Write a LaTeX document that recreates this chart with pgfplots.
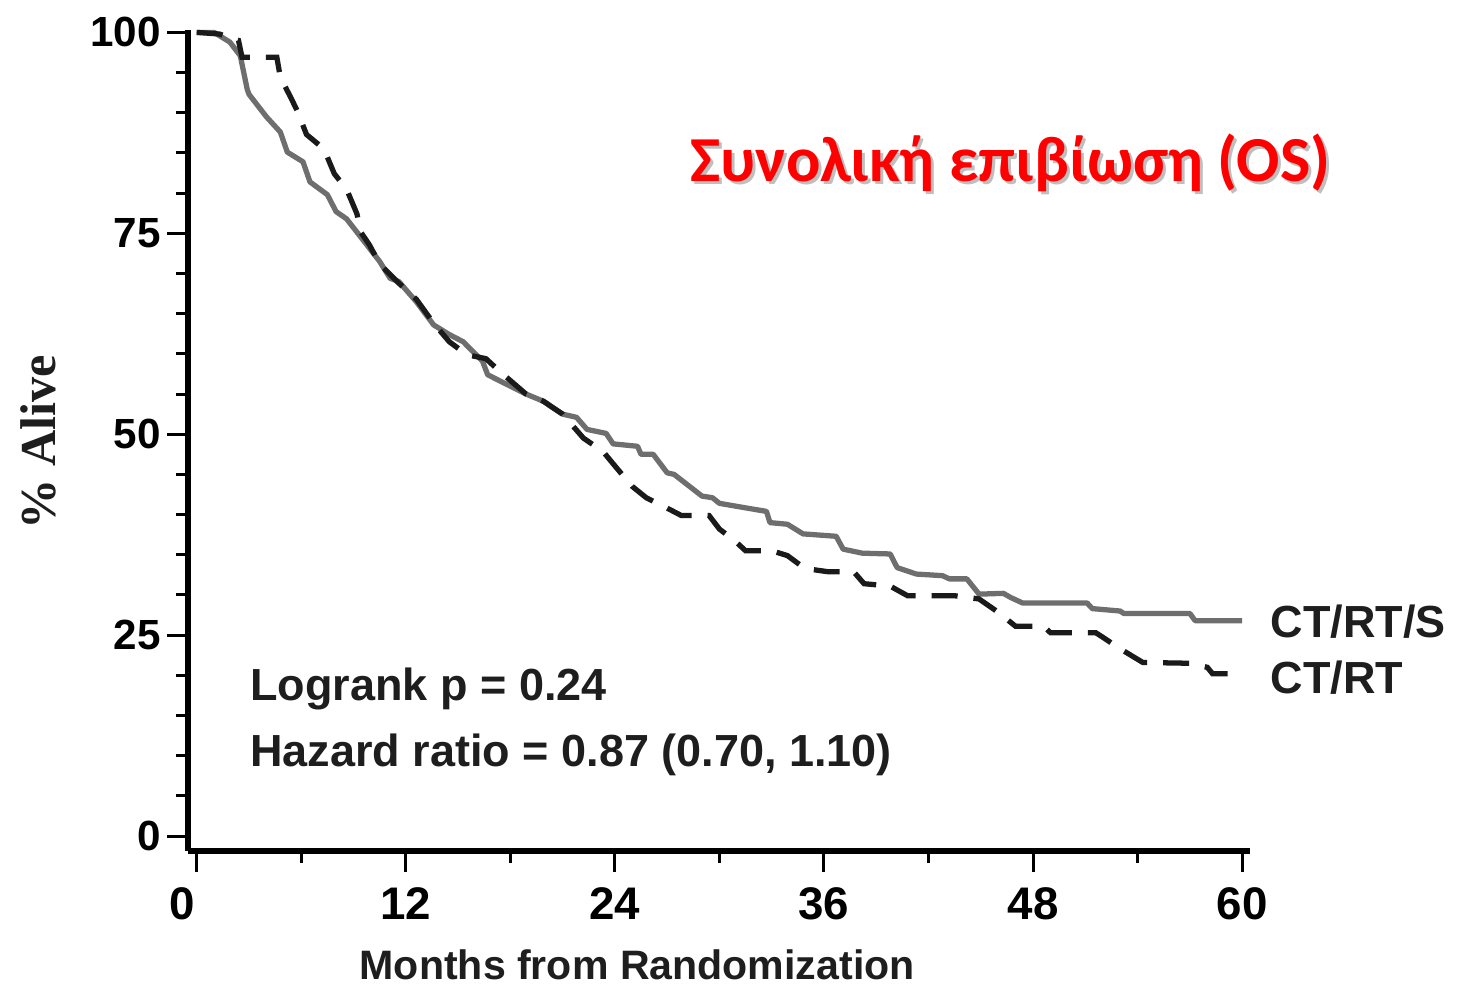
\documentclass[border=0pt]{standalone}
\usepackage{fontspec}
\usepackage{pgfplots}
\pgfplotsset{compat=1.18}
\setmainfont{Liberation Sans}
\newfontfamily\serifbf{Liberation Serif}
\newfontfamily\carlito{Carlito}

\definecolor{kmgray}{HTML}{6E6E6E}
\definecolor{kmblack}{HTML}{1A1A1A}
\definecolor{txt}{HTML}{1E1E1E}
\definecolor{osred}{HTML}{FF0000}

\begin{document}
\begin{tikzpicture}
\begin{axis}[
  scale only axis,
  width=106.2mm, height=82.1mm,
  xmin=-0.5, xmax=60.45,
  ymin=-1.86, ymax=100.3,
  axis x line*=bottom, axis y line*=left,
  axis line style={line width=1.6pt, black},
  xtick={0,12,...,60},
  xticklabels={\makebox[0pt][r]{0\hspace{0.2mm}},12,24,36,48,60},
  minor xtick={6,18,...,54},
  ytick={0,25,...,100},
  yticklabels={0\hspace{-1.9mm},25,50,75,100},
  minor y tick num=4,
  tick align=outside,
  major tick length=2.1mm, minor tick length=1.2mm,
  every tick/.style={black, line width=0.85pt},
  yticklabel style={font=\fontsize{12}{14}\selectfont\bfseries, xshift=0.6mm},
  xticklabel style={font=\fontsize{13}{15}\selectfont\bfseries, yshift=-0.3mm},
  xlabel={Months from Randomization},
  xlabel style={at={(axis description cs:0.423,-0.157)}, anchor=base,
    font=\fontsize{11.7}{14}\selectfont\bfseries, text=txt},
  ylabel={\% Alive},
  ylabel style={at={(axis description cs:-0.1252,0.498)}, anchor=base,
    font=\serifbf\fontsize{14.3}{16}\selectfont\bfseries, text=txt},
  clip=false,
]
% CT/RT/S (grey, solid)
\addplot[kmgray, line width=1.5pt, line join=round] coordinates {
  (0,100) (1.0,100) (1.9,98.8) (2.5,97.1) (2.9,92.9) (3.0,92.3) (4.0,89.5)
  (4.8,87.6) (5.2,85.1) (6.1,83.9) (6.5,81.4) (7.5,79.8) (8.0,77.7) (8.6,76.8)
  (9.5,74.3) (10.5,71.5) (11.1,69.4) (11.6,69.0) (12.6,66.5) (13.6,63.6)
  (14.5,62.4) (15.3,61.5) (16.4,59.1) (16.7,57.4) (17.8,56.2) (18.9,55.0)
  (19.9,54.1) (21.0,52.5) (21.8,52.1) (22.4,50.6) (23.5,50.1) (23.9,48.8)
  (25.3,48.5) (25.5,47.5) (26.2,47.5) (27.0,45.2) (27.4,45.0) (29.0,42.3)
  (29.6,42.1) (30.0,41.4) (31.6,40.8) (32.7,40.4) (32.9,39.0) (33.9,38.8)
  (34.8,37.6) (36.7,37.3) (37.1,35.7) (38.2,35.2) (39.8,35.1) (40.2,33.4)
  (41.3,32.6) (42.8,32.4) (43.2,32.0) (44.2,32.0) (44.9,30.1) (46.3,30.2)
  (46.7,29.7) (47.4,29.0) (51.1,29.0) (51.4,28.3) (53.0,28.0) (53.2,27.7)
  (57.0,27.7) (57.3,26.8) (60.0,26.8)
};
% CT/RT (black, dashed)
\addplot[kmblack, line width=1.5pt, dash pattern=on 2.6mm off 1.6mm] coordinates {
  (0,100) (1.3,99.8) (2.4,99.0) (2.6,96.9) (4.6,96.9) (4.8,94.4) (5.4,91.9)
  (5.8,90.1) (6.3,87.3) (7.3,85.5) (7.9,82.4) (8.6,80.5) (9.2,77.4) (9.4,75.2)
  (9.9,73.6) (10.5,71.2) (11.5,69.0) (12.6,66.8) (13.6,63.8) (14.5,61.5)
  (15.5,59.9) (16.6,59.4) (17.4,57.8) (18.9,55.0) (19.9,54.1) (21.0,52.5)
  (22.2,49.5) (23.3,47.9) (24.1,45.8) (25.0,43.5) (25.8,42.1) (27.0,40.8)
  (27.8,39.9) (29.4,39.9) (30.0,38.2) (30.9,36.7) (31.5,35.5) (33.0,35.5)
  (33.9,34.9) (34.9,33.3) (36.2,32.9) (37.7,32.9) (38.3,31.4) (39.8,31.1)
  (40.8,29.9) (43.5,29.9) (44.9,29.5) (45.9,28.0) (47.0,26.1) (48.6,26.1)
  (49.0,25.3) (51.6,25.3) (52.1,24.6) (53.0,23.3) (54.3,21.6) (57.0,21.5)
  (58.0,21.0) (58.3,20.2) (59.2,20.2)
};
\coordinate (ll) at (rel axis cs:0,0);
\tikzset{lbl/.style={anchor=base west, inner sep=0pt, text=txt,
  font=\fontsize{12.8}{15}\selectfont\bfseries}}
\node[lbl] at (axis cs:61.6,24.7) {CT/RT/S};
\node[lbl] at (axis cs:61.6,17.7) {CT/RT};
\node[lbl] at (axis cs:3.04,16.9) {Logrank p = 0.24};
\node[lbl] at (axis cs:3.04,8.7) {Hazard ratio = 0.87 (0.70, 1.10)};
\node[anchor=base west, inner sep=0pt, text=black!25,
  font=\carlito\fontsize{18.25}{22}\selectfont\bfseries]
  at ([xshift=0.3mm,yshift=-0.3mm]axis cs:28.3,81.4) {Συνολική επιβίωση (OS)};
\node[anchor=base west, inner sep=0pt, text=osred,
  font=\carlito\fontsize{18.25}{22}\selectfont\bfseries]
  at (axis cs:28.3,81.4) {Συνολική επιβίωση (OS)};
\end{axis}
\path (ll) ++(-18.8mm,-13.2mm) rectangle ++(146mm,98.3mm);
\end{tikzpicture}
\end{document}
